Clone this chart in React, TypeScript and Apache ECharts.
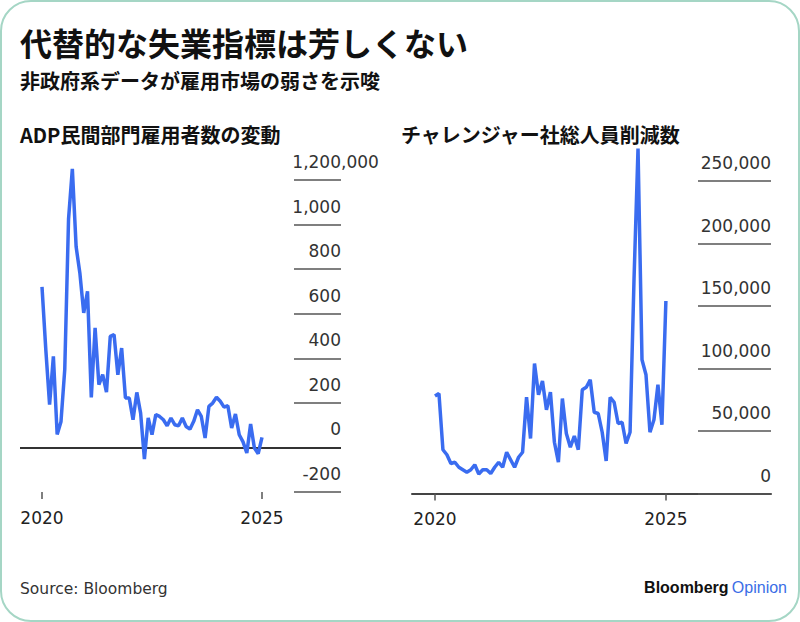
import { useEffect, useRef } from 'react';
import * as echarts from 'echarts';

// ADP private payrolls, monthly change (thousands), Dec 2020 – Oct 2025
const adpChange = [
  720, 440, 192, 409, 58, 115, 350, 1025, 1250, 900,
  780, 604, 700, 224, 537, 282, 327, 248, 498, 506,
  326, 446, 222, 222, 124, 247, 154, -52, 132, 57,
  147, 139, 124, 97, 132, 102, 97, 132, 94, 82,
  117, 169, 139, 42, 184, 199, 225, 207, 181, 187,
  87, 150, 57, 25, -25, 105, -3, -28, 45,
];

// Challenger job-cut announcements, Dec 2020 – Oct 2025
const challengerCuts = [
  78000, 80000, 35000, 31000, 24000, 25000, 21000, 19000, 17000, 19000,
  23000, 15600, 19000, 19000, 16000, 21000, 25000, 21000, 33000, 27000,
  21000, 29000, 33000, 77000, 44000, 104000, 79000, 90000, 67000, 81000,
  41000, 25000, 76000, 48000, 37000, 46000, 35000, 83000, 85000, 91000,
  65000, 64000, 49000, 26000, 77000, 73000, 56000, 57000, 40000, 49000,
  172000, 276000, 107000, 95000, 49000, 59000, 87000, 55000, 154000,
];

// Year ticks on the month-index axis
const yearTickIndex = [0, 58];
const yearTickLabels = ['2020', '2025'];

const titleText = '代替的な失業指標は芳しくない';
const subtitleText = '非政府系データが雇用市場の弱さを示唆';
const adpTitle = 'ADP民間部門雇用者数の変動';
const challengerTitle = 'チャレンジャー社総人員削減数';
const sourceText = 'Source: Bloomberg';

const CJK = '"Noto Sans CJK JP", "Noto Sans", sans-serif';
const NUM = '"DejaVu Sans", sans-serif';
const LINE_BLUE = '#3a6cf0';
const TICK_GREY = '#555';

const fmt = (v: number) => v.toLocaleString('en-US');
const yearLabel = (v: number) => {
  const k = yearTickIndex.indexOf(Math.round(v));
  return k >= 0 ? yearTickLabels[k] : '';
};

function makeXAxis(gridIndex: number, min: number, max: number, showLine: boolean) {
  return {
    type: 'value',
    gridIndex,
    min,
    max,
    axisLine: { show: showLine, onZero: false, lineStyle: { color: '#444', width: 2 } },
    splitLine: { show: false },
    axisTick: {
      show: true,
      length: 7,
      customValues: yearTickIndex,
      lineStyle: { color: TICK_GREY, width: 1.5 },
    },
    axisLabel: {
      customValues: yearTickIndex,
      formatter: yearLabel,
      fontFamily: NUM,
      fontSize: 17,
      color: '#222',
      margin: 17,
    },
  };
}

function makeYAxis(gridIndex: number, min: number, max: number, interval: number, tickLen: number, formatter: (v: number) => string) {
  return {
    type: 'value',
    gridIndex,
    position: 'right',
    min,
    max,
    interval,
    axisLine: { show: false, onZero: false },
    splitLine: { show: false },
    axisTick: {
      show: true,
      inside: true,
      length: tickLen,
      lineStyle: { color: TICK_GREY, width: 1.5 },
    },
    axisLabel: {
      inside: true,
      margin: 0,
      verticalAlign: 'bottom',
      lineHeight: 36,
      fontFamily: NUM,
      fontSize: 17,
      color: '#333',
      formatter,
    },
  };
}

export default function App() {
  const ref = useRef<HTMLDivElement>(null);

  useEffect(() => {
    if (!ref.current) return;
    const chart = echarts.init(ref.current, undefined, { renderer: 'svg' });

    chart.setOption({
      animation: false,
      backgroundColor: '#ffffff',
      grid: [
        { left: 20, right: 459, top: 180, bottom: 130 },
        { left: 412, right: 29, top: 181, bottom: 128.5 },
      ],
      xAxis: [
        makeXAxis(0, -5.8, 78.83, false),
        makeXAxis(1, -5.77, 84.4, true),
      ],
      yAxis: [
        makeYAxis(0, -200, 1200, 200, 47, (v) => (v === 1200 ? '1,200' : fmt(v))),
        makeYAxis(1, 0, 250000, 50000, 73, fmt),
      ],
      series: [
        {
          type: 'line',
          xAxisIndex: 0,
          yAxisIndex: 0,
          data: adpChange.map((v, i) => [i, v]),
          showSymbol: false,
          clip: false,
          lineStyle: { color: LINE_BLUE, width: 3.5 },
          z: 3,
          markLine: {
            silent: true,
            symbol: 'none',
            label: { show: false },
            lineStyle: { color: '#333', width: 2, type: 'solid' },
            data: [{ yAxis: 0 }],
            z: 1,
          },
        },
        {
          type: 'line',
          xAxisIndex: 1,
          yAxisIndex: 1,
          data: challengerCuts.map((v, i) => [i, v]),
          showSymbol: false,
          clip: false,
          lineStyle: { color: LINE_BLUE, width: 3.5 },
          z: 3,
        },
      ],
      graphic: [
        {
          type: 'rect',
          z: -10,
          shape: { x: 1, y: 1, width: 798, height: 620, r: 30 },
          style: { fill: '#ffffff', stroke: '#a5d6c5', lineWidth: 2 },
        },
        {
          type: 'text',
          x: 20,
          y: 42,
          style: { text: titleText, font: `bold 32px ${CJK}`, fill: '#111', verticalAlign: 'middle' },
        },
        {
          type: 'text',
          x: 20,
          y: 80,
          style: { text: subtitleText, font: `bold 20px ${CJK}`, fill: '#111', verticalAlign: 'middle' },
        },
        {
          type: 'text',
          x: 20,
          y: 134,
          style: { text: adpTitle, font: `bold 20px ${CJK}`, fill: '#111', verticalAlign: 'middle' },
        },
        {
          type: 'text',
          x: 401,
          y: 134,
          style: { text: challengerTitle, font: `bold 20px ${CJK}`, fill: '#111', verticalAlign: 'middle' },
        },
        {
          // unit suffix trailing the top tick of the ADP axis
          type: 'text',
          x: 341,
          y: 162,
          style: { text: ',000', font: `17px ${NUM}`, fill: '#333', verticalAlign: 'middle' },
        },
        {
          type: 'text',
          x: 20,
          y: 589,
          style: { text: sourceText, font: `15.5px ${NUM}`, fill: '#333', verticalAlign: 'middle' },
        },
        {
          type: 'text',
          x: 787,
          y: 587,
          style: {
            text: '{a|Bloomberg} {b|Opinion}',
            align: 'right',
            verticalAlign: 'middle',
            rich: {
              a: { fontFamily: '"Liberation Sans", Arial, sans-serif', fontWeight: 'bold', fontSize: 16, fill: '#111' },
              b: { fontFamily: '"Liberation Sans", Arial, sans-serif', fontSize: 16, fill: '#3a6ee6' },
            },
          },
        },
      ],
    });

    return () => chart.dispose();
  }, []);

  return (
    <div
      ref={ref}
      style={{ position: 'absolute', left: 0, top: 0, width: 800, height: 622 }}
    />
  );
}
